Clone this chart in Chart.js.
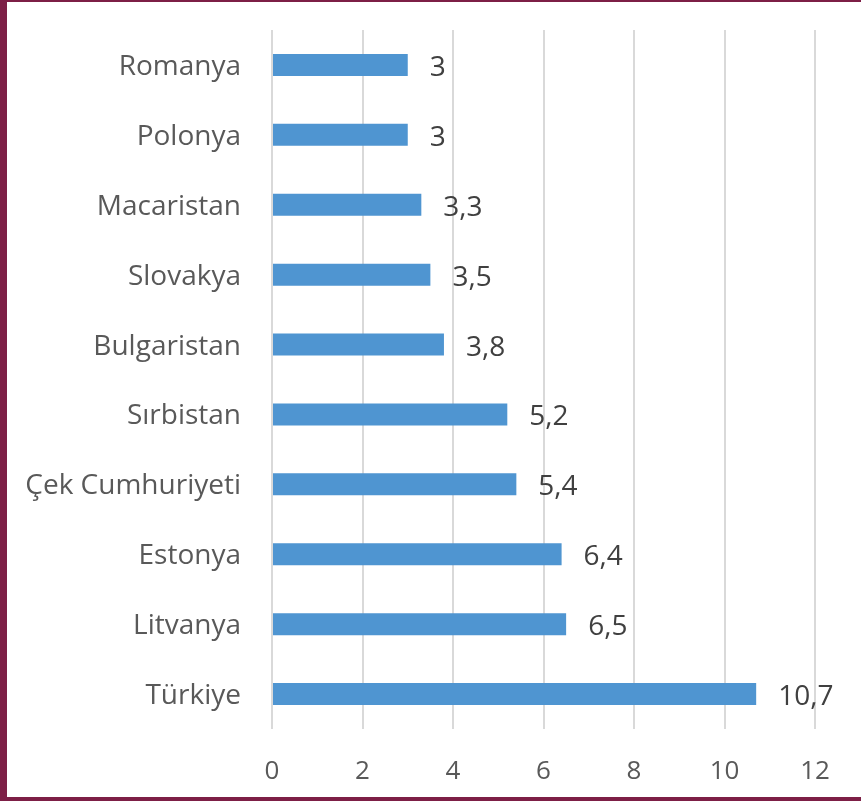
<!DOCTYPE html>
<html>
<head>
<meta charset="utf-8">
<script src="https://cdn.jsdelivr.net/npm/chart.js@4"></script>
<style>
  html, body { margin: 0; padding: 0; background: #fff; }
  #frame {
    position: absolute; left: 0; top: 0;
    width: 861px; height: 801px;
    box-sizing: border-box;
    border-left: 7px solid #7d1f46;
    border-top: 2px solid #7d1f46;
    border-bottom: 4px solid #7d1f46;
    background: #fff;
  }
  #box { position: relative; width: 854px; height: 795px; }
</style>
</head>
<body>
<div id="frame">
  <div id="box"><canvas id="grafico"></canvas></div>
</div>
<script>
const ulkeler = ["Romanya", "Polonya", "Macaristan", "Slovakya", "Bulgaristan",
  "Sırbistan", "Çek Cumhuriyeti", "Estonya", "Litvanya", "Türkiye"];
const degerler = [3, 3, 3.3, 3.5, 3.8, 5.2, 5.4, 6.4, 6.5, 10.7];
const eksenTikleri = [0, 2, 4, 6, 8, 10, 12];

const yazi = "'Open Sans', 'Noto Sans', sans-serif";

// bar ucuna degerleri yaz (virgullu)
const degerEtiketi = {
  id: "degerEtiketi",
  afterDatasetsDraw(chart) {
    const ctx = chart.ctx;
    const meta = chart.getDatasetMeta(0);
    ctx.save();
    ctx.font = "28px " + yazi;
    ctx.fillStyle = "#404040";
    ctx.textAlign = "left";
    ctx.textBaseline = "middle";
    meta.data.forEach((bar, i) => {
      const txt = String(degerler[i]).replace(".", ",");
      ctx.fillText(txt, bar.x + 22, bar.y + 3);
    });
    ctx.restore();
  }
};

new Chart(document.getElementById("grafico"), {
  type: "bar",
  data: {
    labels: ulkeler,
    datasets: [{
      data: degerler,
      backgroundColor: "#4f95d1",
      barPercentage: 0.63,
      categoryPercentage: 0.5
    }]
  },
  options: {
    indexAxis: "y",
    responsive: true,
    maintainAspectRatio: false,
    animation: false,
    layout: { padding: { top: 28, right: 46, bottom: 0, left: 0 } },
    plugins: { legend: { display: false }, tooltip: { enabled: false } },
    scales: {
      x: {
        min: 0, max: 12,
        afterBuildTicks(ax) { ax.ticks = eksenTikleri.map(v => ({ value: v })); },
        afterFit(ax) { ax.height = 68; ax.paddingLeft = 0; ax.paddingRight = 0; },
        grid: { color: "#d9d9d9", lineWidth: 2, drawTicks: false },
        border: { display: false },
        ticks: { color: "#595959", font: { size: 26, family: yazi }, padding: 27 }
      },
      y: {
        afterFit(ax) { ax.width = 265; ax.paddingTop = 0; ax.paddingBottom = 0; },
        grid: { display: false, drawTicks: false },
        border: { display: false },
        ticks: { color: "#595959", font: { size: 28, family: yazi }, padding: 31, labelOffset: 2 }
      }
    }
  },
  plugins: [degerEtiketi]
});
</script>
</body>
</html>
